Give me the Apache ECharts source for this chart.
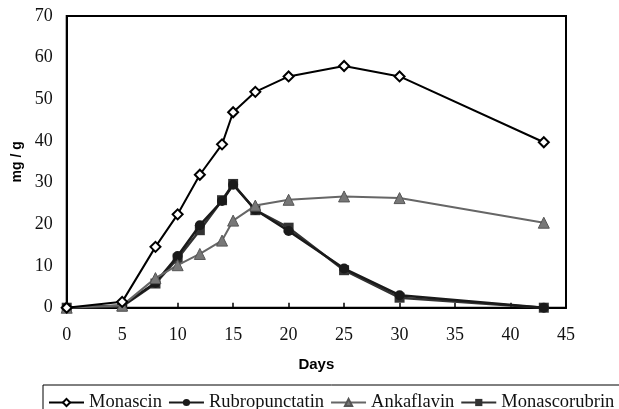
<!DOCTYPE html>
<html>
<head>
<meta charset="utf-8">
<script src="https://cdn.jsdelivr.net/npm/echarts@6/dist/echarts.min.js"></script>
<style>html,body{margin:0;padding:0;background:#fff}#c{width:619px;height:409px}</style>
</head>
<body>
<div id="c"></div>
<script>
const days = [0, 5, 8, 10, 12, 14, 15, 17, 20, 25, 30, 43];
const monascin = [0, 1.4, 14.6, 22.4, 31.9, 39.2, 46.9, 51.8, 55.5, 58.0, 55.5, 39.7];
const rubropunctatin = [0, 0.5, 6.0, 12.4, 19.8, 25.6, 29.5, 23.5, 18.4, 9.4, 3.0, 0];
const ankaflavin = [0, 0.5, 7.1, 10.2, 12.9, 16.1, 20.9, 24.5, 25.9, 26.7, 26.3, 20.4];
const monascorubrin = [0, 0.3, 5.8, 11.8, 18.6, 25.8, 29.7, 23.4, 19.2, 9.0, 2.4, 0];
const xTicks = [0, 5, 10, 15, 20, 25, 30, 35, 40, 45];
const yTicks = [0, 10, 20, 30, 40, 50, 60, 70];

const pair = arr => days.map((d, i) => [d, arr[i]]);
const serif = '"Liberation Serif", "Times New Roman", serif';
const sans = '"Liberation Sans", Arial, sans-serif';

const chart = echarts.init(document.getElementById('c'), null, {renderer: 'canvas'});
chart.setOption({
  animation: false,
  backgroundColor: '#fff',
  grid: {left: 66.7, right: 53, top: 16, bottom: 101.3, show: true, borderColor: '#000', borderWidth: 2, containLabel: false},
  xAxis: {
    type: 'value', min: xTicks[0], max: xTicks[xTicks.length - 1], interval: 5,
    name: 'Days', nameLocation: 'middle', nameGap: 50,
    nameTextStyle: {fontFamily: sans, fontWeight: 'bold', fontSize: 15, color: '#000'},
    axisLine: {show: true, lineStyle: {color: '#000', width: 2}},
    axisTick: {show: true, inside: true, length: 5, lineStyle: {color: '#000', width: 1.5}},
    axisLabel: {fontFamily: serif, fontSize: 18, color: '#111', margin: 19},
    splitLine: {show: false}
  },
  yAxis: {
    type: 'value', min: yTicks[0], max: yTicks[yTicks.length - 1], interval: 10,
    name: 'mg / g', nameLocation: 'middle', nameGap: 42,
    nameTextStyle: {fontFamily: sans, fontWeight: 'bold', fontSize: 14, color: '#000'},
    axisLine: {show: true, lineStyle: {color: '#000', width: 2}},
    axisTick: {show: false},
    axisLabel: {fontFamily: serif, fontSize: 18, color: '#111', margin: 14},
    splitLine: {show: false}
  },
  legend: {
    left: 43, top: 385, width: 900, orient: 'horizontal',
    padding: [8, 6, 6, 5], itemGap: 6, itemWidth: 35, itemHeight: 9,
    borderColor: '#000', borderWidth: 1, backgroundColor: '#fff', borderRadius: 0,
    textStyle: {fontFamily: serif, fontSize: 18.5, color: '#111'},
    data: ['Monascin', 'Rubropunctatin', 'Ankaflavin', 'Monascorubrin']
  },
  series: [
    {name: 'Monascin', type: 'line', data: pair(monascin), symbol: 'diamond', symbolSize: 10,
     lineStyle: {color: '#000', width: 2}, itemStyle: {color: '#fff', borderColor: '#000', borderWidth: 2}, z: 5},
    {name: 'Rubropunctatin', type: 'line', data: pair(rubropunctatin), symbol: 'circle', symbolSize: 10,
     lineStyle: {color: '#1a1a1a', width: 2.5}, itemStyle: {color: '#1a1a1a', borderColor: '#1a1a1a', borderWidth: 0}, z: 3},
    {name: 'Ankaflavin', type: 'line', data: pair(ankaflavin), symbol: 'triangle', symbolSize: 11,
     lineStyle: {color: '#666', width: 2}, itemStyle: {color: '#777', borderColor: '#555', borderWidth: 1}, z: 4},
    {name: 'Monascorubrin', type: 'line', data: pair(monascorubrin), symbol: 'rect', symbolSize: 10,
     lineStyle: {color: '#333', width: 2.5}, itemStyle: {color: '#333', borderColor: '#333', borderWidth: 0}, z: 2}
  ]
});
</script>
</body>
</html>
